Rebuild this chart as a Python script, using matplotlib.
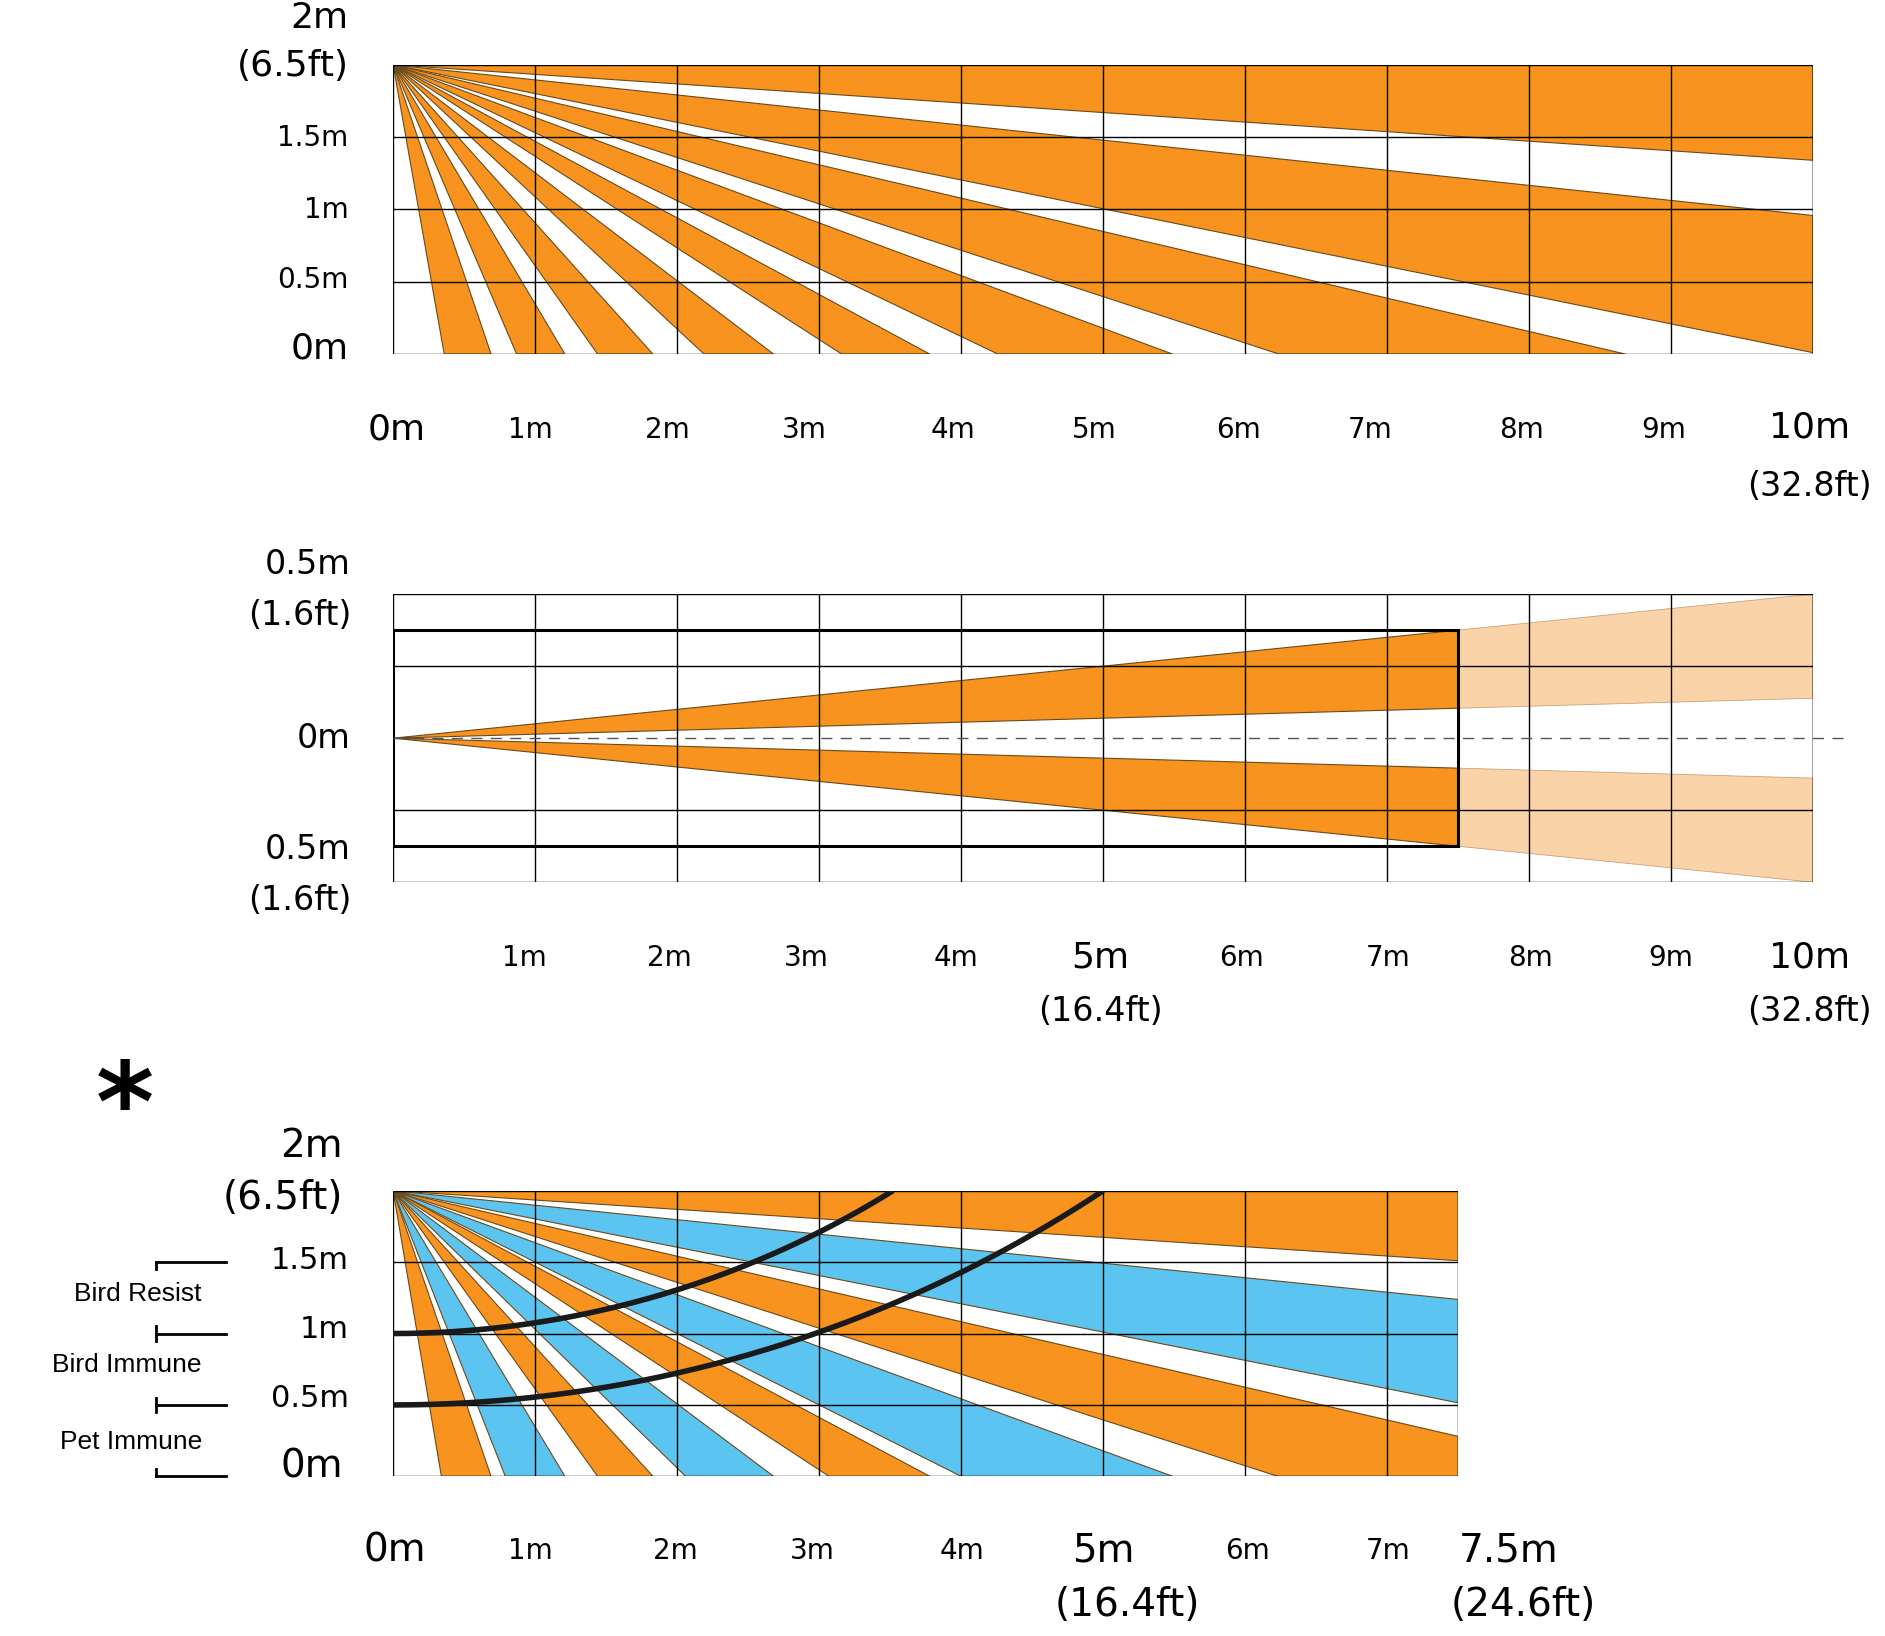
import numpy as np
import matplotlib
matplotlib.use("Agg")
import matplotlib.pyplot as plt
from matplotlib.patches import Polygon, Rectangle

ORANGE = "#F7931E"; BLUE = "#5BC4F0"; LIGHT = "#FAD3A8"
# ground-intercepts (m) of the beam edges from the 2 m mount point (inf = horizontal)
beam_lo = [0.36, 0.87, 1.44, 2.19, 3.16, 4.26, 6.24, 10.05, 30.3]
beam_hi = [0.69, 1.21, 1.83, 2.68, 3.78, 5.49, 8.68, 19.2, np.inf]
beam3_lo = [0.34, 0.79, 1.44, 2.06, 3.07, 4.00, 6.23, 10.1, 30.6]
beam3_hi = [0.69, 1.21, 1.83, 2.68, 3.78, 5.49, 8.72, 19.7, np.inf]
beam3_col = [ORANGE, BLUE, ORANGE, BLUE, ORANGE, BLUE, ORANGE, BLUE, ORANGE]
# side view wedge (half-widths at 7.5 m)
side_outer = 0.375
side_inner = 0.104
# zone arcs: (height at wall, distance reaching 2 m)
arcs = [(1.0, 3.52), (0.5, 5.0)]

W, H = 1568, 1363
fig = plt.figure(figsize=(18.85, 16.36), dpi=100)

def ax_at(x0, x1, y0, y1):
    return fig.add_axes([x0 / W, 1 - y1 / H, (x1 - x0) / W, (y1 - y0) / H])

def T(x, y, s, size=20, ha="center", **kw):
    fig.text(x / W, 1 - y / H, s, fontsize=size, ha=ha, va="center", **kw)

def end_pt(x0, X):
    if x0 <= X:
        return (x0, 0.0)
    return (X, 2 - 2 * X / x0)

def draw_beams(ax, lo, hi, cols, X):
    for a, b, c in zip(lo, hi, cols):
        pa, pb = end_pt(a, X), end_pt(b, X)
        pts = [(0, 2), pa]
        if a <= X < b:
            pts.append((X, 0))
        pts.append(pb)
        ax.add_patch(Polygon(pts, closed=True, facecolor=c, edgecolor="#6b4a1a", lw=0.8, zorder=1))

def grid(ax, X, ys):
    for x in np.arange(0, X + 0.01, 1):
        ax.axvline(x, color="black", lw=1, zorder=3)
    ax.axvline(X, color="black", lw=1, zorder=3)
    for y in ys:
        ax.axhline(y, color="black", lw=1, zorder=3)

def clean(ax):
    ax.set_xticks([]); ax.set_yticks([])
    for s in ax.spines.values():
        s.set_visible(False)

# ---------- panel 1 ----------
ax1 = ax_at(327, 1508, 54, 295)
ax1.set_xlim(0, 10); ax1.set_ylim(0, 2); clean(ax1)
draw_beams(ax1, beam_lo, beam_hi, [ORANGE] * len(beam_lo), 10)
grid(ax1, 10, [0, 0.5, 1, 1.5, 2])
for y, s, sz in [(15, "2m", 26), (55, "(6.5ft)", 26), (115, "1.5m", 20), (175, "1m", 20), (233, "0.5m", 20), (290, "0m", 26)]:
    T(290, y, s, sz, ha="right")
xs = [330, 441, 555, 669, 793, 910, 1030, 1140, 1266, 1384]
for i, x in enumerate(xs):
    T(x, 358, f"{i}m", 26 if i == 0 else 20)
T(1505, 356, "10m", 26); T(1505, 405, "(32.8ft)", 24)

# ---------- panel 2 ----------
ax2 = ax_at(327, 1508, 495, 735)
ax2.set_xlim(0, 10); ax2.set_ylim(-0.5, 0.5); clean(ax2)
k = 10 / 7.5
for sgn in (1, -1):
    ax2.add_patch(Polygon([(0, 0), (7.5, sgn * side_outer), (7.5, sgn * side_inner)], facecolor=ORANGE, edgecolor="#6b4a1a", lw=0.8, zorder=1))
    ax2.add_patch(Polygon([(7.5, sgn * side_outer), (10, sgn * side_outer * k), (10, sgn * side_inner * k), (7.5, sgn * side_inner)], facecolor=LIGHT, edgecolor="#c9a27a", lw=0.6, zorder=1))
grid(ax2, 10, [-0.5, -0.25, 0.25, 0.5])
ax2.add_patch(Rectangle((0, -side_outer), 7.5, 2 * side_outer, fill=False, edgecolor="black", lw=2.2, zorder=4))
ax2.plot([0, 10.27], [0, 0], ls=(0, (8, 6)), color="#555555", lw=1, zorder=4, clip_on=False)
for y, s in [(470, "0.5m"), (513, "(1.6ft)"), (615, "0m"), (708, "0.5m"), (750, "(1.6ft)")]:
    T(292, y, s, 24, ha="right")
xs2 = [436, 557, 671, 795, 915, 1033, 1155, 1273, 1390]
for i, x in enumerate(xs2):
    T(x, 798, f"{i + 1}m", 26 if i == 4 else 20)
T(915, 843, "(16.4ft)", 24)
T(1505, 798, "10m", 26); T(1505, 843, "(32.8ft)", 24)

# ---------- panel 3 ----------
ax3 = ax_at(327, 1213, 992, 1230)
ax3.set_xlim(0, 7.5); ax3.set_ylim(0, 2); clean(ax3)
draw_beams(ax3, beam3_lo, beam3_hi, beam3_col, 7.5)
grid(ax3, 7.5, [0, 0.5, 1, 1.5, 2])
for h, xe in arcs:
    R = (xe ** 2 + (2 - h) ** 2) / (2 * (2 - h))
    xx = np.linspace(0, xe, 200)
    ax3.plot(xx, h + R - np.sqrt(R ** 2 - xx ** 2), color="#1a1a1a", lw=4, zorder=5, solid_capstyle="butt")
for y in [1.5, 1.0, 0.5, 0.0]:
    ax3.plot([-1.67, -1.18], [y, y], color="black", lw=2, clip_on=False)
    ax3.plot([-1.67, -1.67], [y - 0.05 if y > 0 else y, y + 0.05 if y < 1.5 else y], color="black", lw=2, clip_on=False)
T(168, 1078, "Bird Resist", 19, ha="right", family="Liberation Sans")
T(168, 1137, "Bird Immune", 19, ha="right", family="Liberation Sans")
T(168, 1201, "Pet Immune", 19, ha="right", family="Liberation Sans")
T(104, 925, "*", 80, fontweight="bold")
for y, s, sz in [(955, "2m", 28), (998, "(6.5ft)", 28), (1050, "1.5m", 22), (1108, "1m", 22), (1165, "0.5m", 22), (1222, "0m", 28)]:
    T(290 if sz == 22 else 285, y, s, sz, ha="right")
xs3 = [328, 441, 562, 676, 800, 918, 1038, 1155]
for i, x in enumerate(xs3):
    T(x, 1292, f"{i}m", 28 if i in (0, 5) else 20)
T(938, 1337, "(16.4ft)", 28)
T(1255, 1292, "7.5m", 28); T(1267, 1337, "(24.6ft)", 28)

fig.savefig("out.png", dpi=100)
